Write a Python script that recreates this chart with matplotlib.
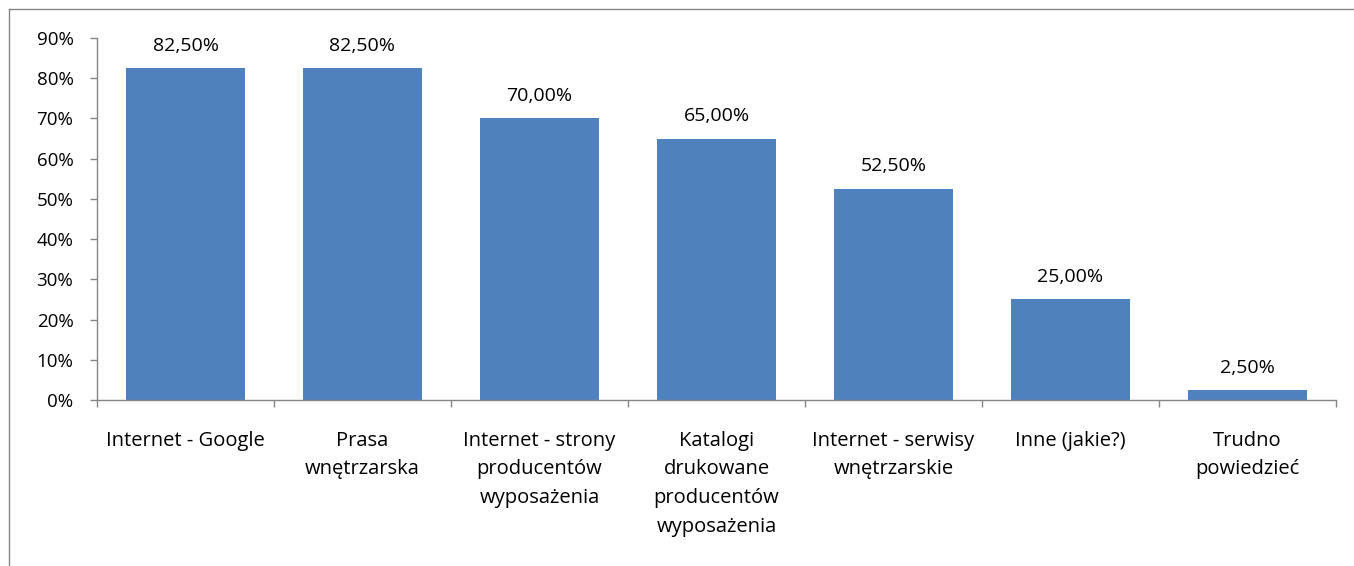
import numpy as np
import matplotlib.pyplot as plt
from matplotlib.lines import Line2D
from matplotlib.ticker import PercentFormatter, FixedLocator

categories = [
    "Internet - Google",
    "Prasa\nwnętrzarska",
    "Internet - strony\nproducentów\nwyposażenia",
    "Katalogi\ndrukowane\nproducentów\nwyposażenia",
    "Internet - serwisy\nwnętrzarskie",
    "Inne (jakie?)",
    "Trudno\npowiedzieć",
]
values = [82.5, 82.5, 70.0, 65.0, 52.5, 25.0, 2.5]
yticks = [0, 10, 20, 30, 40, 50, 60, 70, 80, 90]

plt.rcParams["font.family"] = ["Open Sans", "DejaVu Sans"]
bar_color = "#4F81BD"
axis_color = "#868686"

fig = plt.figure(figsize=(13.54, 5.66), dpi=100)
ax = fig.add_axes([97 / 1354, 1 - 400 / 566, (1336 - 97) / 1354, (400 - 38) / 566])

x = np.arange(len(categories))
bars = ax.bar(x, values, width=0.667, color=bar_color, zorder=2)

for b, v in zip(bars, values):
    txt = f"{v:.2f}".replace(".", ",") + "%"
    ax.annotate(txt, (b.get_x() + b.get_width() / 2, v), xytext=(0, 12.5),
                textcoords="offset points", ha="center", va="baseline", fontsize=14)

ax.set_xlim(-0.5, len(categories) - 0.5)
ax.set_ylim(0, 90)
ax.set_yticks(yticks)
ax.yaxis.set_major_formatter(PercentFormatter(decimals=0))

ax.set_xticks(x)
ax.set_xticklabels(categories, fontsize=14.5, linespacing=1.58, va="top")
ax.xaxis.set_minor_locator(FixedLocator(np.arange(-0.5, len(categories), 1.0)))
ax.tick_params(axis="x", which="major", length=0, pad=22)
ax.tick_params(axis="x", which="minor", length=5, width=1, color=axis_color, direction="out")
ax.tick_params(axis="y", length=5, width=1, color=axis_color, direction="out", pad=12, labelsize=13.5)

for s in ["top", "right"]:
    ax.spines[s].set_visible(False)
for s in ["left", "bottom"]:
    ax.spines[s].set_color(axis_color)
    ax.spines[s].set_linewidth(1)

# chart frame, only left and top edges are visible
fx = 8.5 / 1354
fy = 1 - 8.5 / 566
fig.add_artist(Line2D([fx, fx], [0, fy], color=axis_color, lw=1))
fig.add_artist(Line2D([fx, 1], [fy, fy], color=axis_color, lw=1))

fig.savefig("out.png", dpi=100)
